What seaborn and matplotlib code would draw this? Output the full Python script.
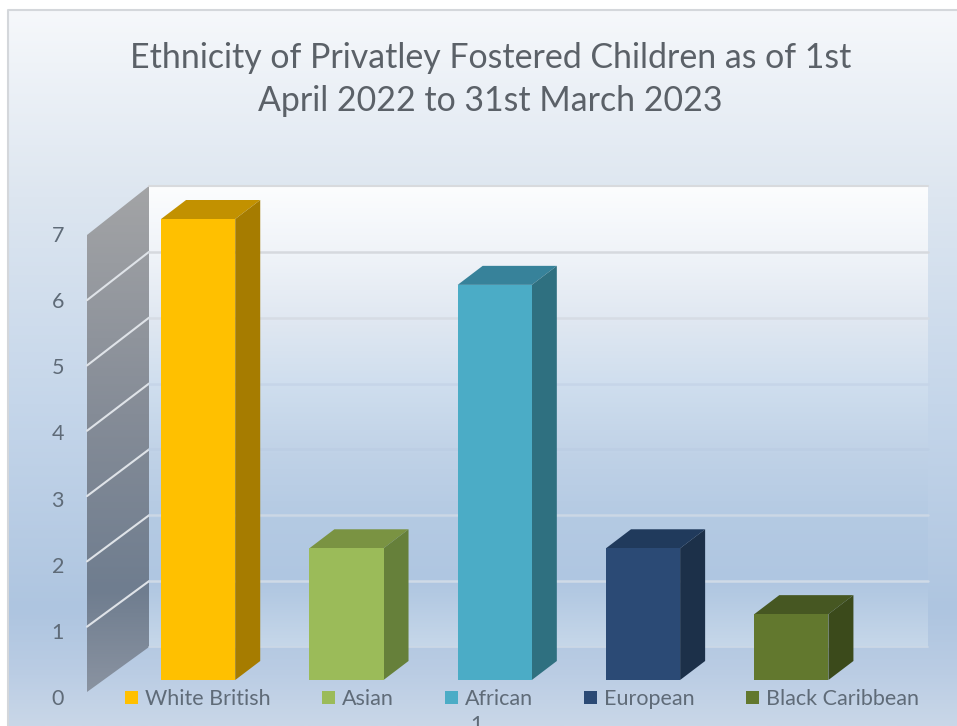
# Ethnicity of privately fostered children - fake 3D column chart
import numpy as np
import pandas as pd
import matplotlib.pyplot as plt
from matplotlib.patches import Polygon
from matplotlib.colors import LinearSegmentedColormap
import seaborn as sns

categories = ['White British', 'Asian', 'African', 'European', 'Black Caribbean']
values = [7, 2, 6, 2, 1]
face_colors = ['#ffc000', '#9bbb59', '#4bacc6', '#2b4a75', '#62782e']
top_colors = ['#c29100', '#7a9342', '#37829a', '#203a5c', '#465722']
side_colors = ['#a67c00', '#66803a', '#2f7080', '#1c3049', '#3b4a1b']
y_ticks = [0, 1, 2, 3, 4, 5, 6, 7]
title = 'Ethnicity of Privatley Fostered Children as of 1st\nApril 2022 to 31st March 2023'

W, H = 957, 726
DEPTH_X, DEPTH_Y = 25, 19

sns.set_theme(style='white')
plt.rcParams['font.family'] = ['Lato', 'DejaVu Sans']

df = pd.DataFrame({'group': categories, 'count': values})

fig = plt.figure(figsize=(W / 100, H / 100), dpi=100, facecolor='white')


def px_axes(left, top, right, bottom):
    return fig.add_axes([left / W, 1 - bottom / H, (right - left) / W, (bottom - top) / H])


def gradient(ax, stops, extent, clip=None, z=0):
    cmap = LinearSegmentedColormap.from_list('g', stops)
    g = np.linspace(0, 1, 256).reshape(-1, 1)
    im = ax.imshow(g, cmap=cmap, extent=extent, aspect='auto', zorder=z, vmin=0, vmax=1)
    if clip is not None:
        patch = Polygon(clip, closed=True, transform=ax.transData, fc='none', ec='none')
        ax.add_patch(patch)
        im.set_clip_path(patch)


# background layer in pixel coordinates
bg = px_axes(0, 0, W, H)
gradient(bg, [(0, '#f6f8fb'), (0.26, '#dde6f0'), (0.55, '#c5d6ea'), (0.84, '#aec5e0'),
              (0.93, '#bbcde4'), (1, '#c9d7e8')],
         (8, W, H, 10))
bg.plot([8, 8, W], [H, 10, 10], color='#d4d7db', lw=1.5, zorder=1)

# back wall and side wall
wall_pts = [(149, 186), (928, 186), (928, 647), (149, 647)]
gradient(bg, [(0, '#fcfdfe'), (0.15, '#eff3f8'), (0.3, '#dfe7f1'), (0.43, '#cfdeee'),
              (0.58, '#c0d2e7'), (0.72, '#b4cae3'), (0.86, '#afc6e1'), (1, '#c6d7e9')],
         (149, 928, 647, 186), clip=wall_pts, z=2)
side_pts = [(87, 235), (149, 186), (149, 647), (87, 692)]
gradient(bg, [(0, '#a3a4a6'), (0.45, '#858c97'), (0.8, '#6f7d8f'), (1, '#8a93a1')],
         (87, 149, 692, 186), clip=side_pts, z=2)
bg.plot([149, 928], [186, 186], color='#d8dadd', lw=1.5, zorder=3)

# gridlines run along the side wall then across the back wall
grid_colors = {1: '#cfdae7', 2: '#cbd7e5', 3: '#bccee4', 4: '#c6d5e8', 5: '#d6dce4', 6: '#d6d9de'}
for v in y_ticks[1:-1]:
    yf = 692 - 65.3 * v
    yb = 647 - 65.86 * v
    bg.plot([87, 149], [yf, yb], color='#dfe3e8', lw=1.5, zorder=3)
    bg.plot([149, 928], [yb, yb], color=grid_colors[v], lw=1.8, zorder=3)
bg.plot([149, 928], [647, 647], color='#ccd8e6', lw=1.2, zorder=3)
bg.set_xlim(0, W)
bg.set_ylim(H, 0)
bg.axis('off')

# bars
ax = px_axes(124, 219, 865.5, 680)
ax.patch.set_alpha(0)
sns.barplot(data=df, x='group', y='count', hue='group', palette=face_colors, dodge=False,
            width=0.5, saturation=1, legend=False, edgecolor='none', linewidth=0, ax=ax)
ax.set_xlim(-0.5, 4.5)
ax.set_ylim(0, 7)
ax.set_xlabel('')
ax.set_ylabel('')
ax.set_xticks([])
ax.set_yticks([])
sns.despine(ax=ax, left=True, bottom=True)

dx = DEPTH_X / (741.5 / 5)
dy = DEPTH_Y / (461 / 7)
bars = sorted([p for p in ax.patches if p.get_height() > 0], key=lambda p: p.get_x())
for bar, tc, sc in zip(bars, top_colors, side_colors):
    x0, w, h = bar.get_x(), bar.get_width(), bar.get_height()
    x1 = x0 + w
    ax.add_patch(Polygon([(x0, h), (x1, h), (x1 + dx, h + dy), (x0 + dx, h + dy)],
                         fc=tc, ec='none', clip_on=False, zorder=3))
    ax.add_patch(Polygon([(x1, 0), (x1 + dx, dy), (x1 + dx, h + dy), (x1, h)],
                         fc=sc, ec='none', clip_on=False, zorder=3))
    bar.set_zorder(4)

# legend
handles = [plt.Rectangle((0, 0), 1, 1, fc=c, ec='none') for c in face_colors]
leg = fig.legend(handles, categories, ncols=5, loc='center', frameon=False,
                 bbox_to_anchor=(522 / W, 1 - 699 / H), fontsize=15.5,
                 handlelength=0.6, handleheight=0.6, handletextpad=0.33,
                 columnspacing=2.38, labelcolor='#5f6b78')

# y labels on their own axes
tick_ax = px_axes(87, 234, 100, 697)
tick_ax.patch.set_alpha(0)
tick_ax.set_ylim(0, 7)
tick_ax.set_xticks([])
tick_ax.set_yticks(y_ticks)
tick_ax.set_yticklabels([str(v) for v in y_ticks], fontsize=15.5, color='#5f6b78')
tick_ax.tick_params(axis='y', length=0, pad=16.5)
sns.despine(ax=tick_ax, left=True, bottom=True)

fig.text(476 / W, 1 - 715 / H, '1', fontsize=15.5, color='#5f6b78', ha='center', va='top')
fig.text(490.5 / W, 1 - 79.5 / H, title, fontsize=24.43, color='#5b6168', ha='center', va='center',
         linespacing=1.45)

fig.savefig('out.png', dpi=100)
